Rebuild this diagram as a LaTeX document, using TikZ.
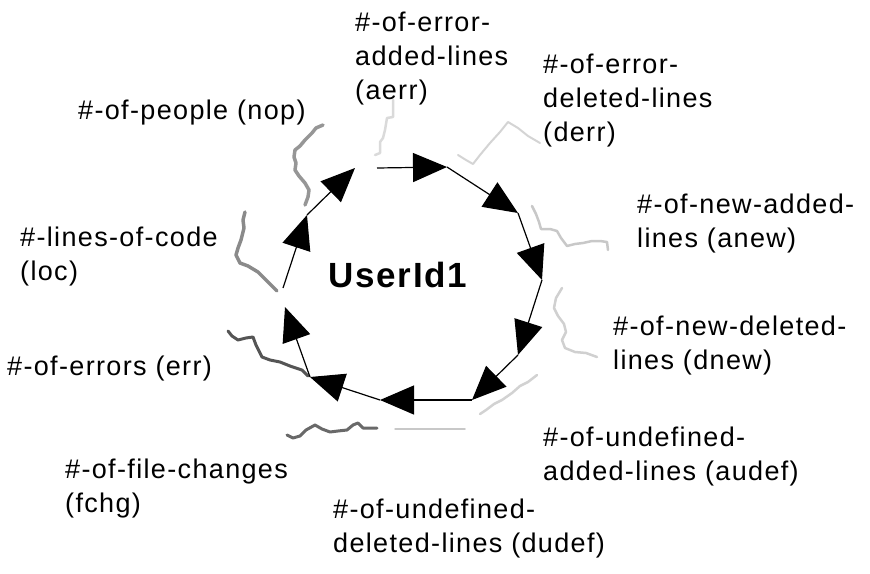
\documentclass[tikz,border=0pt]{standalone}
\usepackage{fontspec}
\setmainfont{Liberation Sans}[LetterSpace=5]
\usetikzlibrary{arrows.meta}
\begin{document}
\begin{tikzpicture}[x=1pt,y=-1pt,
  lbl/.style={font=\fontsize{27}{34}\selectfont, align=left, inner sep=0pt, anchor=north west},
  cyc/.style={line width=1.2pt, -{Triangle[length=34pt,width=29pt]}},
  sq/.style={line width=#1, line join=round, line cap=round},
]
\useasboundingbox (0,0) rectangle (870,573);
% squiggly connectors
\draw[sq=3.5pt, color={rgb,255:red,150;green,150;blue,150}] (323,125) -- (316,128) -- (312,133) -- (305,140) -- (300,146) -- (295,150) -- (294,157) -- (296,163) -- (295,170) -- (299,176) -- (305,183) -- (309,190) -- (308,197) -- (305,205);
\draw[sq=2.5pt, color={rgb,255:red,218;green,218;blue,218}] (393,100) -- (393,117) -- (387,118) -- (385,130) -- (383,138) -- (380,142) -- (380,153) -- (375,155);
\draw[sq=2pt, color={rgb,255:red,212;green,212;blue,212}] (458,155) -- (466,160) -- (473,164) -- (480,155) -- (490,143) -- (500,132) -- (508,122) -- (518,128) -- (528,136) -- (540,143);
\draw[sq=2.5pt, color={rgb,255:red,200;green,200;blue,200}] (532,206) -- (536,214) -- (539,222) -- (541,229) -- (550,229) -- (557,231) -- (561,238) -- (567,246) -- (575,244) -- (583,243) -- (592,241) -- (600,241) -- (607,242) -- (608,250);
\draw[sq=2.5pt, color={rgb,255:red,208;green,208;blue,208}] (562,288) -- (556,298) -- (554,308) -- (558,316) -- (564,324) -- (566,332) -- (562,340) -- (565,348) -- (575,352) -- (586,353) -- (597,357);
\draw[sq=2.5pt, color={rgb,255:red,210;green,210;blue,210}] (537,375) -- (528,382) -- (520,386) -- (512,393) -- (502,400) -- (494,404) -- (486,410) -- (480,414);
\draw[sq=1.5pt, color={rgb,255:red,200;green,200;blue,200}] (395,429) -- (465,429);
\draw[sq=3pt, color={rgb,255:red,105;green,105;blue,105}] (287,435) -- (293,438) -- (300,436) -- (306,430) -- (315,425) -- (322,429) -- (330,432) -- (338,431) -- (347,430) -- (353,425) -- (358,423) -- (363,428) -- (370,428) -- (377,428);
\draw[sq=3pt, color={rgb,255:red,85;green,85;blue,85}] (228,331) -- (232,336) -- (238,340) -- (246,338) -- (253,337) -- (256,345) -- (262,357) -- (270,360) -- (280,362) -- (290,366) -- (302,370) -- (308,376);
\draw[sq=3.5pt, color={rgb,255:red,138;green,138;blue,138}] (245,212) -- (243,220) -- (244,228) -- (241,240) -- (238,248) -- (236,255) -- (240,263) -- (248,266) -- (258,272) -- (264,278) -- (270,284) -- (277,291);
% cycle
\coordinate (A) at (377,168);
\coordinate (B) at (447,167);
\coordinate (C) at (518,213);
\coordinate (D) at (542,280);
\coordinate (E) at (518,355);
\coordinate (F) at (472,400);
\coordinate (G) at (380,400);
\coordinate (H) at (310,377);
\coordinate (I) at (285,307);
\coordinate (J) at (283,288);
\coordinate (K) at (307,215);
\coordinate (L) at (355,168);
\draw[cyc] (A) -- (B);
\draw[cyc] (B) -- (C);
\draw[cyc] (C) -- (D);
\draw[cyc] (D) -- (E);
\draw[cyc] (E) -- (F);
\draw[cyc] (F) -- (G);
\draw[cyc] (G) -- (H);
\draw[cyc] (H) -- (I);
\draw[cyc] (J) -- (K);
\draw[cyc] (K) -- (L);
% labels
\node (user) at (398,275) {\fontsize{35}{40}\selectfont\bfseries UserId1};
\node[lbl] (aerr) at (355,12) {\#-of-error-\\added-lines\\(aerr)};
\node[lbl] (derr) at (543,54) {\#-of-error-\\deleted-lines\\(derr)};
\node[lbl] (anew) at (637,194) {\#-of-new-added-\\lines (anew)};
\node[lbl] (dnew) at (613,316) {\#-of-new-deleted-\\lines (dnew)};
\node[lbl] (audef) at (543,427) {\#-of-undefined-\\added-lines (audef)};
\node[lbl] (dudef) at (333,499) {\#-of-undefined-\\deleted-lines (dudef)};
\node[lbl] (fchg) at (65,459) {\#-of-file-changes\\(fchg)};
\node[lbl] (err) at (7,356) {\#-of-errors (err)};
\node[lbl] (loc) at (20,227) {\#-lines-of-code\\(loc)};
\node[lbl] (nop) at (78,100) {\#-of-people (nop)};
\end{tikzpicture}
\end{document}
